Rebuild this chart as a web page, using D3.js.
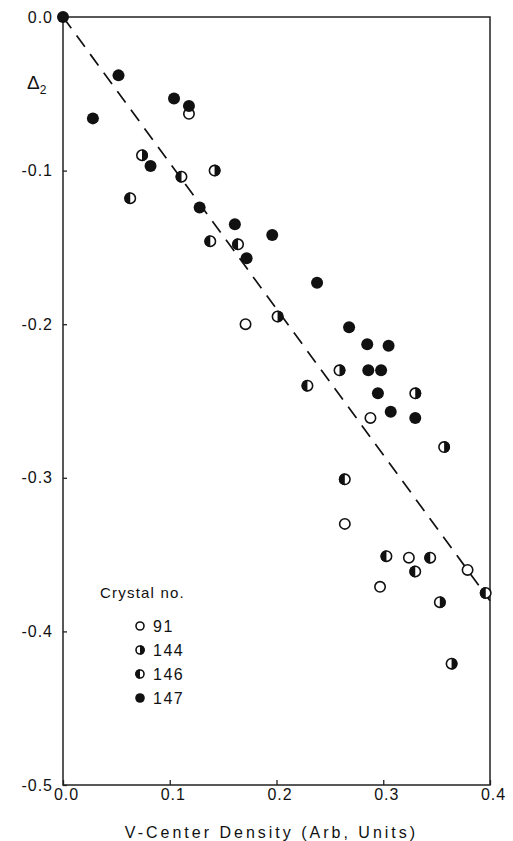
<!DOCTYPE html>
<html>
<head>
<meta charset="utf-8">
<script src="https://cdn.jsdelivr.net/npm/d3@7"></script>
<style>
  body { margin: 0; background: #fff; }
  text { font-family: "Liberation Sans", Arial, sans-serif; fill: #111; }
</style>
</head>
<body>
<div id="chart"></div>
<script>
// crystal numbers and their points
var crystals = ["91", "144", "146", "147"];

var x91 = [0.118, 0.171, 0.288, 0.264, 0.324, 0.379, 0.297];
var y91 = [-0.063, -0.200, -0.261, -0.330, -0.352, -0.360, -0.371];

var x144 = [0.074, 0.142, 0.201, 0.259, 0.330, 0.357, 0.353, 0.364];
var y144 = [-0.090, -0.100, -0.195, -0.230, -0.245, -0.280, -0.381, -0.421];

var x146 = [0.063, 0.111, 0.138, 0.164, 0.229, 0.264, 0.303, 0.344, 0.330, 0.396];
var y146 = [-0.118, -0.104, -0.146, -0.148, -0.240, -0.301, -0.351, -0.352, -0.361, -0.375];

var x147 = [0, 0.028, 0.052, 0.104, 0.118, 0.082, 0.128, 0.161, 0.172, 0.196, 0.238, 0.268, 0.285, 0.305, 0.286, 0.298, 0.295, 0.307, 0.330];
var y147 = [0, -0.066, -0.038, -0.053, -0.058, -0.097, -0.124, -0.135, -0.157, -0.142, -0.173, -0.202, -0.213, -0.214, -0.230, -0.230, -0.245, -0.257, -0.261];

// dashed fit line
var fitX = [0, 0.4];
var fitY = [0, -0.38];

var xTicks = [0, 0.1, 0.2, 0.3, 0.4];
var yTicks = [0, -0.1, -0.2, -0.3, -0.4, -0.5];

var margin = { top: 17, right: 23, bottom: 56, left: 63 },
  width = 513 - margin.left - margin.right,
  height = 841 - margin.top - margin.bottom;

var svg = d3.select("#chart")
  .append("svg")
  .attr("width", 513)
  .attr("height", 841)
  .append("g")
  .attr("transform", "translate(" + margin.left + "," + margin.top + ")");

var x = d3.scaleLinear().domain([0, 0.4]).range([0, width]);
var y = d3.scaleLinear().domain([-0.5, 0]).range([height, 0]);

// axes with inward ticks
var xAxis = svg.append("g")
  .attr("transform", "translate(0," + height + ")")
  .call(d3.axisBottom(x)
    .tickValues(xTicks)
    .tickSize(-5)
    .tickPadding(4)
    .tickFormat(d => d.toFixed(1)));
xAxis.select(".domain").remove();
xAxis.selectAll("text")
  .attr("dx", 3)
  .style("font-size", "16px")
  .style("letter-spacing", "1px");

var yAxis = svg.append("g")
  .call(d3.axisLeft(y)
    .tickValues(yTicks)
    .tickSize(-4)
    .tickPadding(10)
    .tickFormat(d => d.toFixed(1)));
yAxis.select(".domain").remove();
yAxis.selectAll("text")
  .style("font-size", "16px")
  .style("letter-spacing", "1px");
yAxis.selectAll("line, path").attr("stroke", "#222");
xAxis.selectAll("line").attr("stroke", "#222").attr("stroke-width", 1.3);
yAxis.selectAll("line").attr("stroke-width", 1.3);

// frame
svg.append("rect")
  .attr("x", 0)
  .attr("y", 0)
  .attr("width", width)
  .attr("height", height)
  .style("fill", "none")
  .style("stroke", "#222")
  .style("stroke-width", 1.5);

// dashed line
svg.append("path")
  .datum(fitX.map((d, i) => [d, fitY[i]]))
  .attr("d", d3.line().x(d => x(d[0])).y(d => y(d[1])))
  .style("fill", "none")
  .style("stroke", "#111")
  .style("stroke-width", 1.7)
  .style("stroke-dasharray", "14,9");

// markers
var halfRight = d3.arc().innerRadius(0).startAngle(0).endAngle(Math.PI);
var halfLeft = d3.arc().innerRadius(0).startAngle(Math.PI).endAngle(2 * Math.PI);

function drawMarker(g, kind, r) {
  if (kind === "147") {
    g.append("circle").attr("r", r).style("fill", "#111");
    return;
  }
  g.append("circle")
    .attr("r", r - 0.8)
    .style("fill", "#fff")
    .style("stroke", "#111")
    .style("stroke-width", 1.6);
  if (kind === "144") {
    g.append("path").attr("d", halfRight.outerRadius(r)()).style("fill", "#111");
  } else if (kind === "146") {
    g.append("path").attr("d", halfLeft.outerRadius(r)()).style("fill", "#111");
  }
}

var seriesX = { "91": x91, "144": x144, "146": x146, "147": x147 };
var seriesY = { "91": y91, "144": y144, "146": y146, "147": y147 };

crystals.forEach(function (c) {
  var pts = seriesX[c].map((d, i) => [d, seriesY[c][i]]);
  svg.selectAll("g.pt" + c)
    .data(pts)
    .enter()
    .append("g")
    .attr("class", "pt" + c)
    .attr("transform", d => "translate(" + x(d[0]) + "," + y(d[1]) + ")")
    .each(function () { drawMarker(d3.select(this), c, 6); });
});

// legend
var legend = svg.append("g").attr("transform", "translate(77,575)");
legend.append("text")
  .attr("x", -40)
  .attr("y", 6)
  .style("font-size", "15px")
  .style("letter-spacing", "1.2px")
  .text("Crystal no.");
crystals.forEach(function (c, i) {
  var row = legend.append("g").attr("transform", "translate(0," + (34 + i * 24) + ")");
  drawMarker(row, c, 4.8);
  row.append("text")
    .attr("x", 13)
    .attr("dy", "0.36em")
    .style("font-size", "16px")
    .style("letter-spacing", "1.5px")
    .text(c);
});

// y label
var dl = svg.append("text")
  .attr("x", -36)
  .attr("y", 72)
  .style("font-size", "19px")
  .text("\u0394");
dl.append("tspan")
  .attr("dy", 5)
  .style("font-size", "12px")
  .text("2");

// x label
svg.append("text")
  .attr("x", width / 2 - 5)
  .attr("y", height + 53)
  .attr("text-anchor", "middle")
  .style("font-size", "16px")
  .style("letter-spacing", "3px")
  .text("V-Center Density (Arb, Units)");
</script>
</body>
</html>
